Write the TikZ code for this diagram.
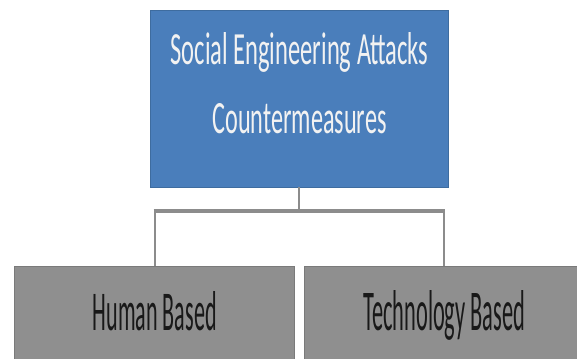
\documentclass[tikz,border=0pt]{standalone}
\usepackage{fontspec}
\usepackage{graphicx}
\setmainfont{Carlito}
\definecolor{rootblue}{HTML}{4A7EBB}
\definecolor{rootedge}{HTML}{3E6C9F}
\definecolor{leafgray}{HTML}{8F8F8F}
\definecolor{leafedge}{HTML}{7A7A7A}
\definecolor{linkgray}{HTML}{8C8C8C}
\definecolor{lighttext}{HTML}{F2F2F2}
% set a line of text at a given width and height
\newcommand\narrowline[3]{\resizebox{#1}{#2}{#3}}
\tikzset{
  rootbox/.style={rectangle, fill=rootblue, draw=rootedge, line width=0.8pt,
    minimum width=298pt, minimum height=176.5pt, inner sep=0pt},
  leafbox/.style={rectangle, fill=leafgray, draw=leafedge, line width=0.8pt,
    minimum width=280pt, minimum height=100pt, inner sep=0pt},
  roottext/.style={anchor=base, inner sep=0pt, text=lighttext},
  leaftext/.style={anchor=base, inner sep=0pt, text=black!90},
  link/.style={draw=linkgray, line width=2pt},
  busbar/.style={draw=linkgray, line width=4pt},
}
\begin{document}
\begin{tikzpicture}[x=1pt,y=-1pt]
  \useasboundingbox (0,0) rectangle (577,358);
  \clip (0,0) rectangle (577,358);
  \fill[white] (0,0) rectangle (577,358);

  % boxes
  \node[rootbox] (root)  at (299,98.75) {};
  \node[leafbox] (human) at (154.5,316) {};
  \node[leafbox] (tech)  at (444,316) {};

  % labels: width and cap/ascender height of each line given explicitly
  \node[roottext] (rootA) at (299.5,65) {\narrowline{258pt}{32pt}{Social Engineering Attacks}};
  \node[roottext] (rootB) at (299.5,133) {\narrowline{174pt}{30pt}{Countermeasures}};
  \node[leaftext] (humanT) at (154.7,330) {\narrowline{124pt}{39pt}{Human Based}};
  \node[leaftext] (techT)  at (444.2,330) {\narrowline{162pt}{40pt}{Technology Based}};

  % connectors
  \coordinate (bus) at (299,211.3);
  \draw[link] (root.south) -- (root.south |- bus);
  \draw[busbar] ([xshift=-1pt]human.north |- bus) -- ([xshift=1pt]tech.north |- bus);
  \draw[link] (human.north |- bus) -- (human.north);
  \draw[link] (tech.north |- bus) -- (tech.north);
\end{tikzpicture}
\end{document}
